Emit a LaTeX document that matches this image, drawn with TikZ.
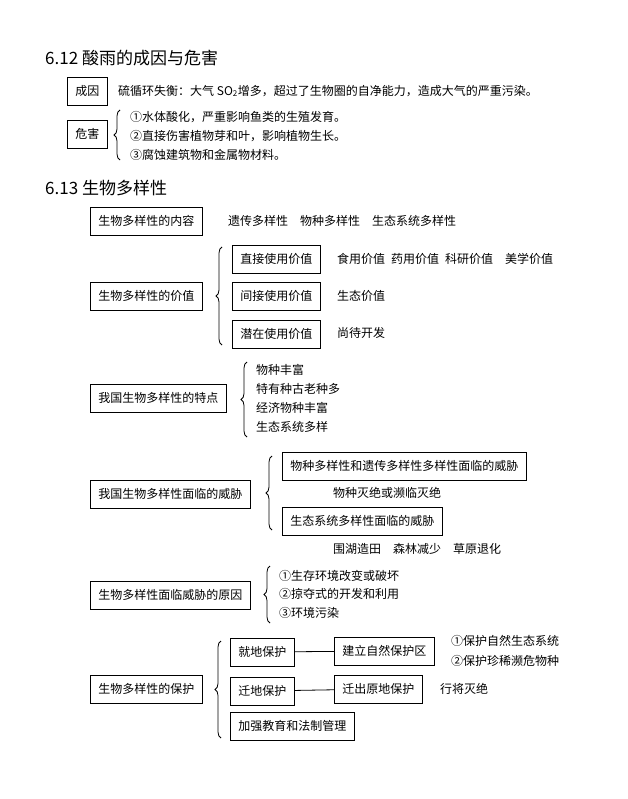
\documentclass[tikz,border=0pt]{standalone}
\usepackage{fontspec}
\setmainfont{Noto Sans CJK SC}
\usetikzlibrary{decorations.pathreplacing}
\tikzset{
  box/.style={draw,thick,anchor=west,minimum height=28pt,inner xsep=8pt},
  txt/.style={anchor=west,inner sep=0pt},
  head/.style={anchor=west,inner sep=0pt,font=\fontsize{17}{20}\selectfont},
  brc/.style={decorate,decoration={brace,amplitude=6pt},thick},
}
\begin{document}
\begin{tikzpicture}[x=1pt,y=-1pt,font=\fontsize{12}{14}\selectfont]
		\useasboundingbox (0,0) rectangle (627,799);
		% 6.12
		\node[head] (h1) at (45,58) {6.12 酸雨的成因与危害};
		\node[box] (cy) at (67,91) {成因};
		\node[txt] (cyt) at (118,91) {硫循环失衡：大气 SO\textsubscript{2}增多，超过了生物圈的自净能力，造成大气的严重污染。};
		\node[box] (wh) at (67,134) {危害};
		\draw[brc] (120,160) -- (120,110);
		\node[txt] (wh1) at (130,117) {①水体酸化，严重影响鱼类的生殖发育。};
		\node[txt] (wh2) at (130,136) {②直接伤害植物芽和叶，影响植物生长。};
		\node[txt] (wh3) at (130,155) {③腐蚀建筑物和金属物材料。};
		
		% 6.13
		\node[head] (h2) at (45,188) {6.13 生物多样性};
		\node[box] (nr) at (90,221) {生物多样性的内容};
		\node[txt] (nrt) at (228,221) {遗传多样性\quad 物种多样性\quad 生态系统多样性};
		
		\node[box] (jz) at (90,296) {生物多样性的价值};
		\draw[brc] (222,345) -- (222,247);
		\node[box] (zj) at (232,259) {直接使用价值};
		\node[box] (jj) at (232,296) {间接使用价值};
		\node[box] (qz) at (232,334) {潜在使用价值};
		\node[txt] (zjt) at (337,259) {食用价值\enspace 药用价值\enspace 科研价值\quad 美学价值};
		\node[txt] (jjt) at (337,296) {生态价值};
		\node[txt] (qzt) at (337,333) {尚待开发};
		
		\node[box] (td) at (90,398) {我国生物多样性的特点};
		\draw[brc] (247,437) -- (247,362);
		\node[txt] (td1) at (256,370) {物种丰富};
		\node[txt] (td2) at (256,389) {特有种古老种多};
		\node[txt] (td3) at (256,408) {经济物种丰富};
		\node[txt] (td4) at (256,427) {生态系统多样};
		
		\node[box] (wx) at (90,494) {我国生物多样性面临的威胁};
		\draw[brc] (272,530) -- (272,456);
		\node[box] (wx1) at (282,466) {物种多样性和遗传多样性多样性面临的威胁};
		\node[txt] (wx1t) at (333,493) {物种灭绝或濒临灭绝};
		\node[box] (wx2) at (282,521) {生态系统多样性面临的威胁};
		\node[txt] (wx2t) at (333,549) {围湖造田\quad 森林减少\quad 草原退化};
		
		\node[box] (yy) at (90,595) {生物多样性面临威胁的原因};
		\draw[brc] (270,623) -- (270,566);
		\node[txt] (yy1) at (279,576) {①生存环境改变或破坏};
		\node[txt] (yy2) at (279,594) {②掠夺式的开发和利用};
		\node[txt] (yy3) at (279,613) {③环境污染};
		
		\node[box] (bh) at (90,689) {生物多样性的保护};
		\draw[brc] (221,738) -- (221,641);
		\node[box] (jd) at (230,652) {就地保护};
		\node[box] (qd) at (230,691) {迁地保护};
		\node[box] (jq) at (230,726) {加强教育和法制管理};
		\node[box] (zr) at (334,651) {建立自然保护区};
		\node[box] (qc) at (334,689) {迁出原地保护};
		\draw[thick] (jd) -- (zr);
		\draw[thick] (qd) -- (qc);
		\node[txt] (zr1) at (451,641) {①保护自然生态系统};
		\node[txt] (zr2) at (451,661) {②保护珍稀濒危物种};
		\node[txt] (qct) at (440,689) {行将灭绝};
\end{tikzpicture}
\end{document}
